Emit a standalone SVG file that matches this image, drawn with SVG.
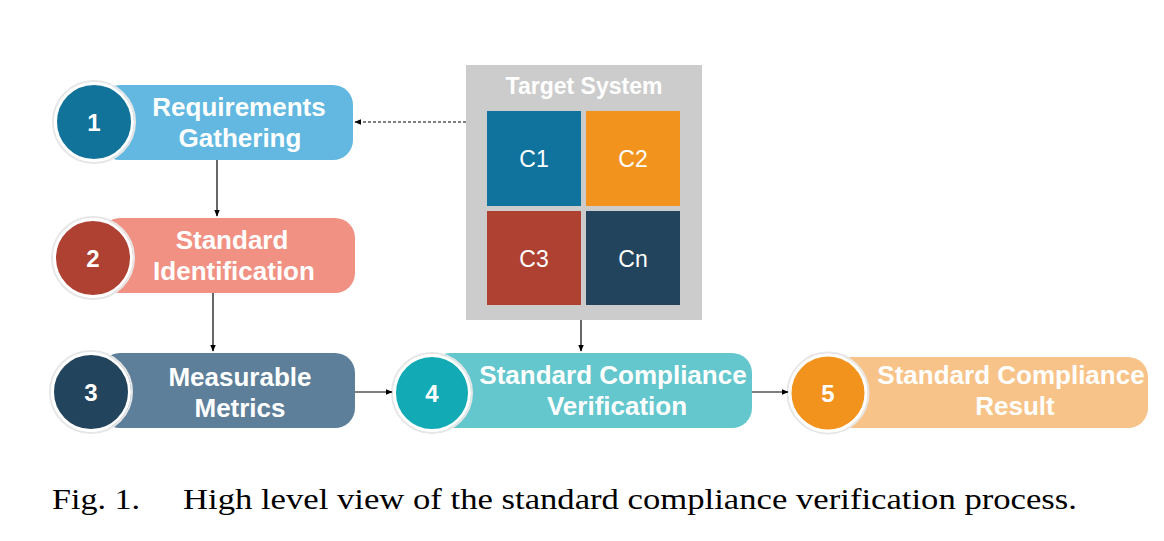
<svg xmlns="http://www.w3.org/2000/svg" width="1164" height="541" viewBox="0 0 1164 541">
<defs>
<style>
.lbl{font-weight:bold;font-size:26px;fill:#fff;text-anchor:middle}
.num{font-weight:bold;font-size:24px;fill:#fff;text-anchor:middle}
.comp{font-size:23px;fill:#fff;text-anchor:middle}
.halo{fill:none;stroke:#e6e6e6;stroke-width:2}
.ring{stroke:#fff;stroke-width:3}
.conn{stroke:#000;stroke-width:1.2;fill:none}
.cap{font-size:30px;fill:#000}
</style>
<marker id="ah" viewBox="0 0 10 10" refX="9" refY="5" markerWidth="7" markerHeight="7" orient="auto" markerUnits="userSpaceOnUse">
<path d="M0,1 L10,5 L0,9 Z" fill="#000"/>
</marker>
</defs>
<rect width="1164" height="541" fill="#fff"/>

<g font-family="'Liberation Sans', Arial, Helvetica, sans-serif">
<g id="target-system">
<rect x="466" y="65" width="236" height="255" fill="#cccccc"/>
<text class="lbl" x="584" y="94" style="font-size:23px">Target System</text>
<rect x="487" y="111" width="94" height="95" fill="#10739e"/>
<text class="comp" x="534" y="167">C1</text>
<rect x="586" y="111" width="94" height="95" fill="#f2931e"/>
<text class="comp" x="633" y="167">C2</text>
<rect x="487" y="211" width="94" height="94" fill="#ae4132"/>
<text class="comp" x="534" y="267">C3</text>
<rect x="586" y="211" width="94" height="94" fill="#23445d"/>
<text class="comp" x="633" y="267">Cn</text>
</g>

<g id="node1">
<rect x="100" y="85" width="253" height="75" rx="20" fill="#62b8e0"/>
<circle cx="94" cy="122" r="41" class="halo"/>
<circle cx="94" cy="122" r="38.5" fill="#11729a" class="ring"/>
<text class="num" x="94" y="131">1</text>
<text class="lbl" x="239" y="116">Requirements</text>
<text class="lbl" x="240" y="147">Gathering</text>
</g>

<g id="node2">
<rect x="100" y="218" width="255" height="75" rx="20" fill="#f19183"/>
<circle cx="93" cy="258" r="41" class="halo"/>
<circle cx="93" cy="258" r="38.5" fill="#ae4132" class="ring"/>
<text class="num" x="93" y="267">2</text>
<text class="lbl" x="232" y="249">Standard</text>
<text class="lbl" x="234" y="280">Identification</text>
</g>

<g id="node3">
<rect x="100" y="353" width="255" height="75" rx="20" fill="#5d7f99"/>
<circle cx="91" cy="392" r="41" class="halo"/>
<circle cx="91" cy="392" r="38.5" fill="#23445d" class="ring"/>
<text class="num" x="91" y="401">3</text>
<text class="lbl" x="240" y="386">Measurable</text>
<text class="lbl" x="240" y="417">Metrics</text>
</g>

<g id="node4">
<rect x="430" y="353" width="322" height="75" rx="20" fill="#64c7cd"/>
<circle cx="432" cy="393" r="40" class="halo"/>
<circle cx="432" cy="393" r="37.5" fill="#12aab5" class="ring"/>
<text class="num" x="432" y="402">4</text>
<text class="lbl" x="613" y="384">Standard Compliance</text>
<text class="lbl" x="617" y="415">Verification</text>
</g>

<g id="node5">
<rect x="828" y="357" width="320" height="71" rx="20" fill="#f7c388"/>
<circle cx="828" cy="393" r="40.5" class="halo"/>
<circle cx="828" cy="393" r="38" fill="#f2931e" class="ring"/>
<text class="num" x="828" y="402">5</text>
<text class="lbl" x="1011" y="384">Standard Compliance</text>
<text class="lbl" x="1015" y="415">Result</text>
</g>
</g>

<g id="connectors">
<line class="conn" x1="217" y1="160" x2="217" y2="216" marker-end="url(#ah)"/>
<line class="conn" x1="213" y1="293" x2="213" y2="351" marker-end="url(#ah)"/>
<line class="conn" x1="355" y1="392" x2="392" y2="392" marker-end="url(#ah)"/>
<line class="conn" x1="752" y1="392" x2="788" y2="392" marker-end="url(#ah)"/>
<line class="conn" x1="581" y1="320" x2="581" y2="351" marker-end="url(#ah)"/>
<line class="conn" x1="466" y1="122" x2="355" y2="122" stroke-dasharray="3,2" marker-end="url(#ah)"/>
</g>

<g id="caption" font-family="'Liberation Serif', 'Times New Roman', serif">
<text class="cap" x="52" y="509" textLength="88" lengthAdjust="spacingAndGlyphs">Fig. 1.</text>
<text class="cap" x="183" y="509" textLength="894" lengthAdjust="spacingAndGlyphs">High level view of the standard compliance verification process.</text>
</g>
</svg>
